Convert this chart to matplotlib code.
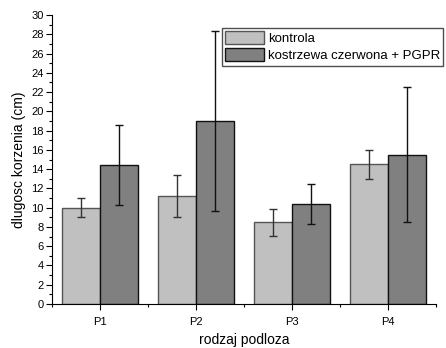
import matplotlib
matplotlib.use("Agg")
from matplotlib import pyplot as plt
from matplotlib.ticker import MultipleLocator, FixedLocator
import numpy as np

plt.rcParams['font.family'] = ['Liberation Sans', 'DejaVu Sans']

categories = ["P1", "P2", "P3", "P4"]
kontrola = np.array([10.0, 11.2, 8.5, 14.5])
kontrola_err = np.array([1.0, 2.2, 1.4, 1.5])
pgpr = np.array([14.4, 19.0, 10.4, 15.5])
pgpr_err = np.array([4.15, 9.3, 2.1, 7.0])

x = np.arange(len(categories))
w = 0.4

fig = plt.figure(figsize=(4.46, 3.48), dpi=100)
ax = fig.add_axes([0.1166, 0.1264, 0.861, 0.8305])

ax.bar(x - w / 2, kontrola, w, color="#c0c0c0", edgecolor="#555555", linewidth=1.0,
       label="kontrola", zorder=2)
ax.bar(x + w / 2, pgpr, w, color="#808080", edgecolor="#111111", linewidth=1.0,
       label="kostrzewa czerwona + PGPR", zorder=2)
ax.errorbar(x - w / 2, kontrola, yerr=kontrola_err, fmt="none", ecolor="#333333",
            elinewidth=1.0, capsize=3, capthick=1.0, zorder=3)
ax.errorbar(x + w / 2, pgpr, yerr=pgpr_err, fmt="none", ecolor="#111111",
            elinewidth=1.0, capsize=3, capthick=1.0, zorder=3)

ax.set_xlim(-0.5, 3.5)
ax.set_ylim(0, 30)
ax.set_xticks(x)
ax.set_xticklabels(categories)
ax.xaxis.set_minor_locator(FixedLocator([-0.5, 0.5, 1.5, 2.5, 3.5]))
ax.yaxis.set_major_locator(MultipleLocator(2))
ax.yaxis.set_minor_locator(MultipleLocator(1))
ax.tick_params(axis="both", which="major", direction="out", length=4, width=0.8,
               labelsize=8, pad=2)
ax.tick_params(axis="both", which="minor", direction="out", length=2, width=0.8)
ax.tick_params(axis="x", which="major", pad=5)

for s in ["top", "right"]:
    ax.spines[s].set_visible(False)
ax.spines["left"].set_linewidth(0.8)
ax.spines["bottom"].set_linewidth(0.8)

ax.set_xlabel("rodzaj podloza", fontsize=10, labelpad=5)
ax.set_ylabel("dlugosc korzenia (cm)", fontsize=10, labelpad=4)

leg = ax.legend(loc="upper left", bbox_to_anchor=(0.443, 0.955), fontsize=9.5,
                frameon=True, fancybox=False, edgecolor="#222222",
                borderpad=0.25, handlelength=2.9, handleheight=1.1,
                handletextpad=0.3, labelspacing=0.25, borderaxespad=0)
leg.get_frame().set_linewidth(1.0)
leg.set_clip_on(False)

fig.savefig("out.png", dpi=100)
